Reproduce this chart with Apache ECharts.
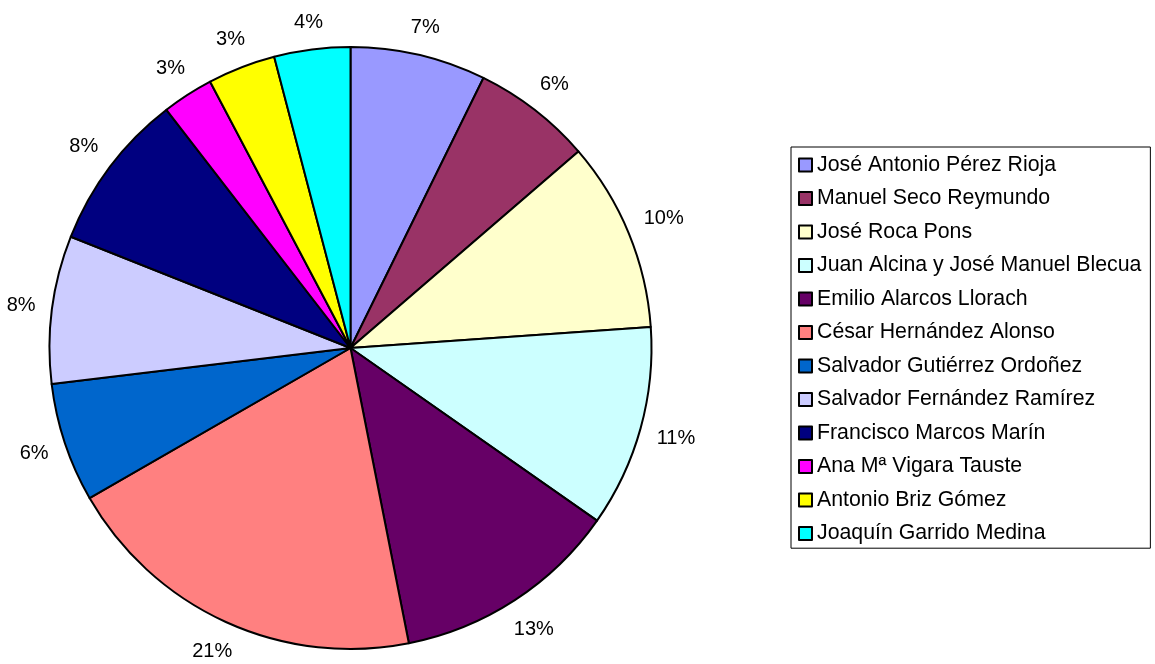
<!DOCTYPE html>
<html>
<head>
<meta charset="utf-8">
<title>Pie</title>
<script src="https://cdn.jsdelivr.net/npm/echarts@6/dist/echarts.min.js"></script>
<style>
  html, body { margin: 0; padding: 0; background: #fff; }
  #main { width: 1155px; height: 664px; }
</style>
</head>
<body>
<div id="main"></div>
<script>
// autores (orden de la leyenda)
var names = [
    "José Antonio Pérez Rioja",
    "Manuel Seco Reymundo",
    "José Roca Pons",
    "Juan Alcina y José Manuel Blecua",
    "Emilio Alarcos Llorach",
    "César Hernández Alonso",
    "Salvador Gutiérrez Ordoñez",
    "Salvador Fernández Ramírez",
    "Francisco Marcos Marín",
    "Ana Mª Vigara Tauste",
    "Antonio Briz Gómez",
    "Joaquín Garrido Medina"
];
// porcentaje de cada sector
var shares = [7.28, 6.39, 10.21, 10.84, 12.17, 19.8, 6.39, 7.94, 8.5, 2.75, 3.64, 4.08];
// etiquetas tal como aparecen
var pctLabels = ["7%", "6%", "10%", "11%", "13%", "21%", "6%", "8%", "8%", "3%", "3%", "4%"];
var colors = ["#9999FF", "#993366", "#FFFFCC", "#CCFFFF", "#660066", "#FF8080",
              "#0066CC", "#CCCCFF", "#000080", "#FF00FF", "#FFFF00", "#00FFFF"];

var cx = 350.5, cy = 348, radius = 301, labelGap = 15.5;

var chart = echarts.init(document.getElementById("main"));

var total = shares.reduce(function(a, b) { return a + b; }, 0);
var midAngles = [];
var acc = 0;
for (var i = 0; i < shares.length; i++) {
    midAngles.push((acc + shares[i] / 2) / total * Math.PI * 2);
    acc += shares[i];
}

chart.setOption({
    backgroundColor: "#fff",
    animation: false,
    color: colors,
    legend: {
        orient: "vertical",
        left: 791,
        top: 147,
        padding: [7.5, 9, 4, 7],
        itemWidth: 13,
        itemHeight: 13,
        itemGap: 12.3,
        icon: "rect",
        borderColor: "#000",
        borderWidth: 1,
        itemStyle: { borderColor: "#000", borderWidth: 2 },
        textStyle: {
            fontFamily: "Liberation Sans",
            fontSize: 21.3,
            lineHeight: 21.2,
            color: "#000"
        },
        data: names
    },
    series: [{
        type: "pie",
        center: [cx, cy],
        radius: radius,
        startAngle: 90,
        clockwise: true,
        avoidLabelOverlap: false,
        itemStyle: { borderColor: "#000", borderWidth: 2 },
        emphasis: { disabled: true },
        label: {
            show: true,
            position: "outside",
            fontFamily: "Liberation Sans",
            fontSize: 20,
            color: "#000",
            formatter: function(p) { return pctLabels[p.dataIndex]; }
        },
        labelLine: { show: false },
        // etiqueta fuera del sector, su caja a una distancia fija del borde
        labelLayout: function(p) {
            var a = midAngles[p.dataIndex];
            var sx = Math.sin(a), sy = -Math.cos(a);
            var w = p.labelRect.width, h = p.labelRect.height;
            var ext = Math.abs(sx) * w / 2 + Math.abs(sy) * h / 2;
            var d = radius + labelGap + ext;
            return {
                x: cx + d * sx,
                y: cy + d * sy,
                align: "center",
                verticalAlign: "middle"
            };
        },
        data: names.map(function(n, i) { return { name: n, value: shares[i] }; })
    }]
});
</script>
</body>
</html>
